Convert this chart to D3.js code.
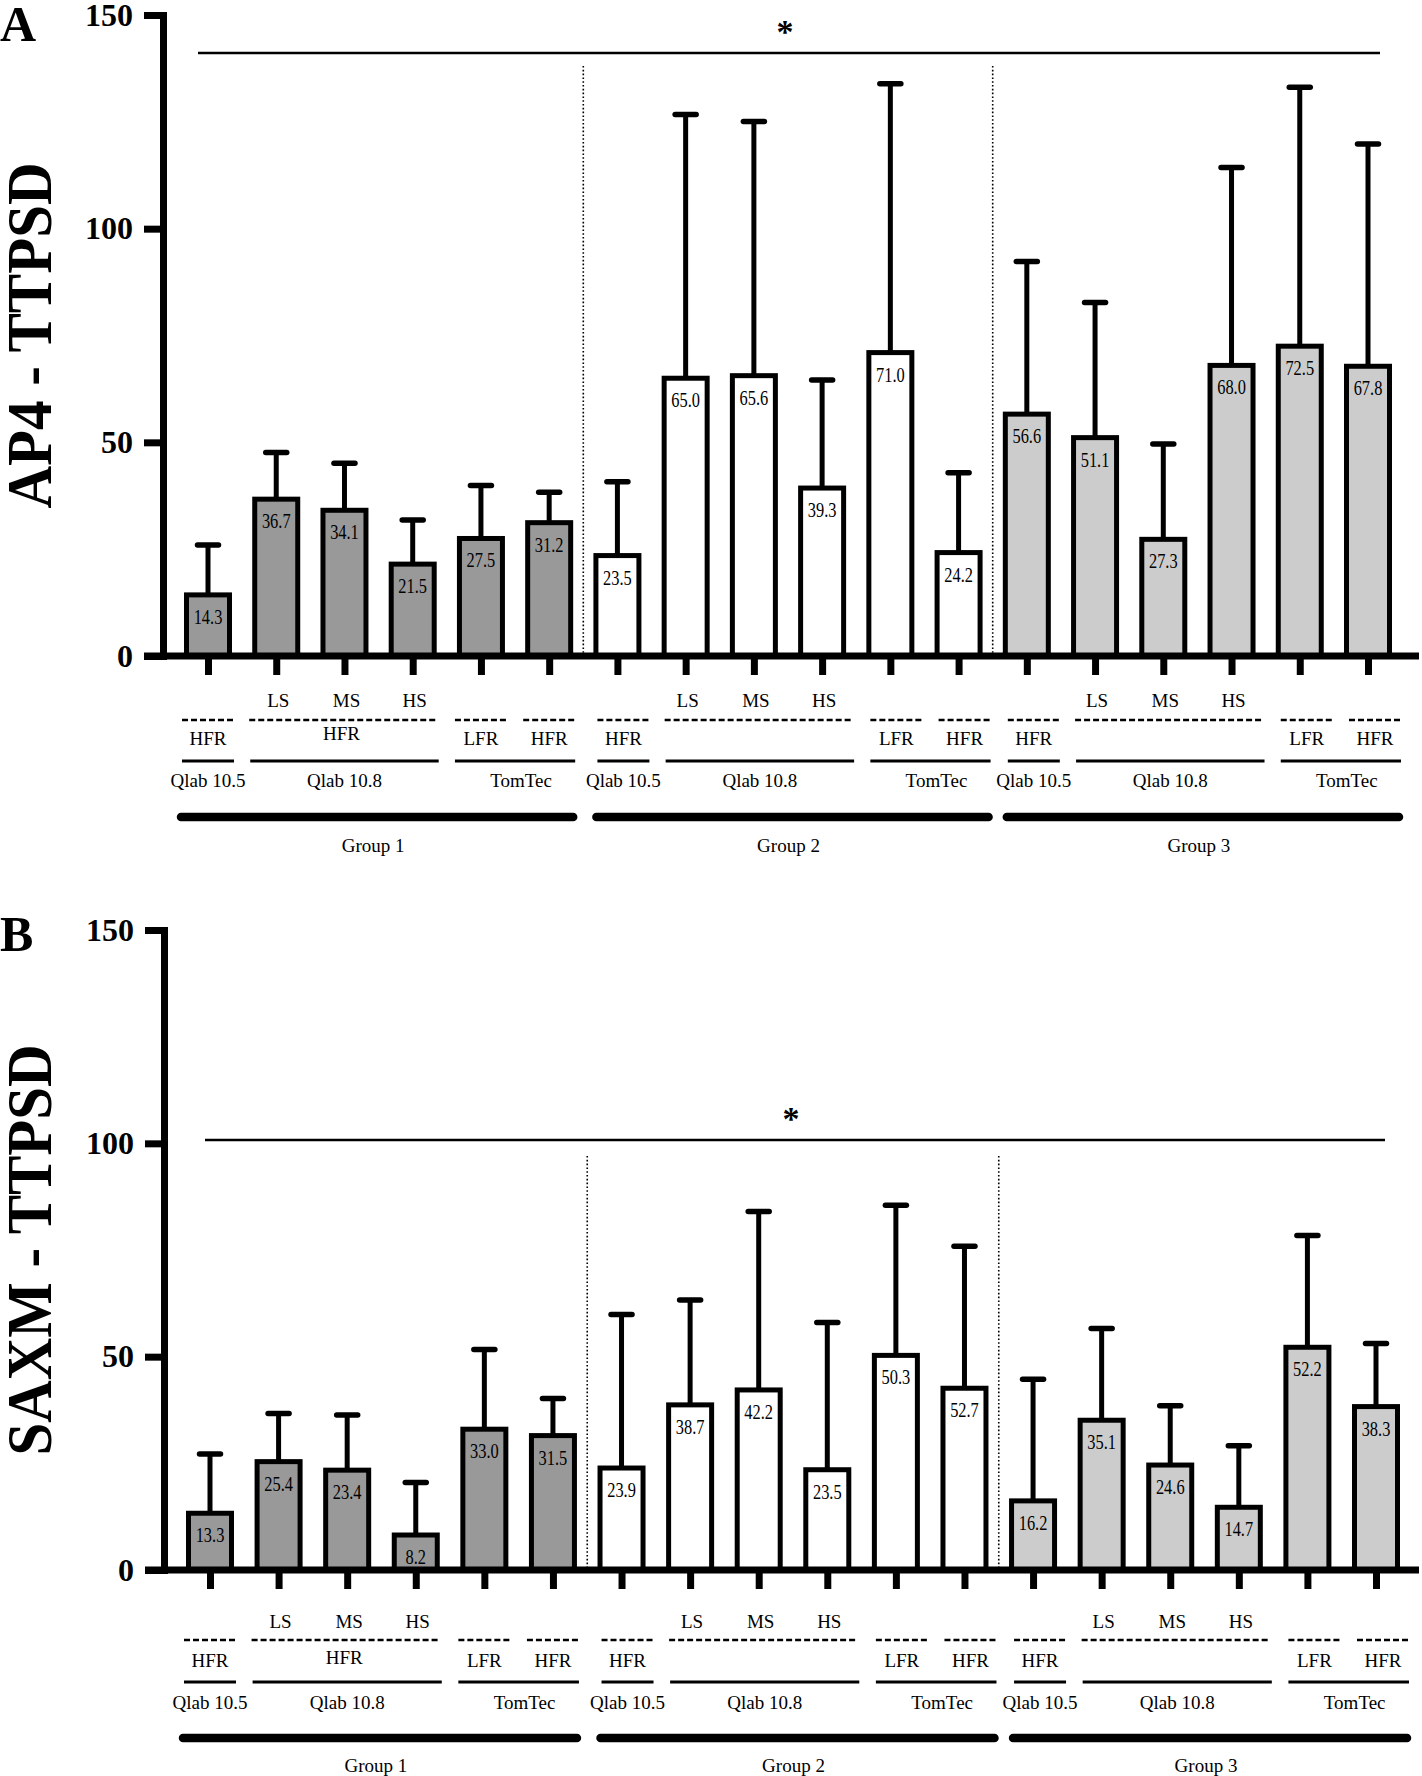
<!DOCTYPE html>
<html><head><meta charset="utf-8">
<script src="https://cdn.jsdelivr.net/npm/d3@7"></script>
<style>
body{margin:0;background:#fff}
svg{display:block}
text{font-family:"Liberation Serif","Times New Roman",serif;fill:#000}
</style>
</head><body>
<svg id="chart" width="1422" height="1776"></svg>
<script>
// ---------------- DATA ----------------
const groupNames = ["Group 1", "Group 2", "Group 3"];
const speckleLabels = ["", "LS", "MS", "HS", "", ""];
const frameRateLabels = ["HFR", "", "", "", "LFR", "HFR"];
const qlab108FrameLabel = ["HFR", "", ""];
const softwareNames = ["Qlab 10.5", "Qlab 10.8", "TomTec"];
const softwareFrom = [0, 1, 4];
const softwareTo = [0, 3, 5];
const groupFills = ["#999999", "#ffffff", "#cccccc"];
const categories = groupNames.flatMap(g =>
  ["Qlab 10.5 HFR", "Qlab 10.8 LS", "Qlab 10.8 MS", "Qlab 10.8 HS", "TomTec LFR", "TomTec HFR"].map(s => g + " " + s));
const yTicks = [0, 50, 100, 150];

// Panel A: AP4 - TTPSD
const ap4Values = [14.3, 36.7, 34.1, 21.5, 27.5, 31.2, 23.5, 65.0, 65.6, 39.3, 71.0, 24.2, 56.6, 51.1, 27.3, 68.0, 72.5, 67.8];
const ap4ErrorTop = [26.0, 47.6, 45.1, 31.8, 39.9, 38.3, 40.8, 126.7, 125.1, 64.6, 133.9, 42.9, 92.3, 82.7, 49.6, 114.3, 133.1, 119.8];
const ap4Labels = ["14.3", "36.7", "34.1", "21.5", "27.5", "31.2", "23.5", "65.0", "65.6", "39.3", "71.0", "24.2", "56.6", "51.1", "27.3", "68.0", "72.5", "67.8"];

// Panel B: SAXM - TTPSD
const saxmValues = [13.3, 25.4, 23.4, 8.2, 33.0, 31.5, 23.9, 38.7, 42.2, 23.5, 50.3, 42.6, 16.2, 35.1, 24.6, 14.7, 52.2, 38.3];
const saxmErrorTop = [27.2, 36.7, 36.3, 20.5, 51.7, 40.2, 59.9, 63.3, 84.0, 58.0, 85.5, 75.9, 44.7, 56.6, 38.5, 29.1, 78.4, 53.1];
const saxmLabels = ["13.3", "25.4", "23.4", "8.2", "33.0", "31.5", "23.9", "38.7", "42.2", "23.5", "50.3", "52.7", "16.2", "35.1", "24.6", "14.7", "52.2", "38.3"];

// ---------------- LAYOUT ----------------
const svg = d3.select("#chart");

const panels = [
  { letter: "A", title: "AP4 - TTPSD", values: ap4Values, err: ap4ErrorTop, labels: ap4Labels,
    yTop: 15, yBottom: 656, axisX: 163, xFirst: 208, xLast: 1368, letterY: 41,
    sigY: 53, sigX0: 198, sigX1: 1380, starX: 785, sepTop: 66,
    rows: { sp: 44, dash: 64, fr: 82, fr108: 77, solid: 105, sw: 124, thick: 161, grp: 189 } },
  { letter: "B", title: "SAXM - TTPSD", values: saxmValues, err: saxmErrorTop, labels: saxmLabels,
    yTop: 930, yBottom: 1570, axisX: 164, xFirst: 210, xLast: 1376, letterY: 951,
    sigY: 1140, sigX0: 205, sigX1: 1385, starX: 791, sepTop: 1156,
    rows: { sp: 51, dash: 70, fr: 90, fr108: 87, solid: 112, sw: 132, thick: 168, grp: 195 } }
];

const groupShift = [0, 6, 7];

panels.forEach(p => {
  const g = svg.append("g");
  const y = d3.scaleLinear().domain([0, 150]).range([p.yBottom, p.yTop]);
  const x = d3.scalePoint().domain(d3.range(categories.length)).range([p.xFirst, p.xLast]);
  const barW = 43;

  // panel letter
  g.append("text").attr("x", 0).attr("y", p.letterY)
    .attr("font-size", 50).attr("font-weight", "bold").text(p.letter);

  // y title
  const cy = (p.yTop + p.yBottom) / 2;
  const titleLen = p.letter === "A" ? 346 : 411;
  g.append("text")
    .attr("transform", `translate(51,${cy}) rotate(-90)`)
    .attr("text-anchor", "middle")
    .attr("font-size", 64).attr("font-weight", "bold")
    .attr("textLength", titleLen).attr("lengthAdjust", "spacingAndGlyphs")
    .text(p.title);

  // group separators (dotted)
  [5.5, 11.5].forEach(k => {
    const xs = (x(Math.floor(k)) + x(Math.ceil(k))) / 2;
    g.append("line").attr("x1", xs).attr("x2", xs).attr("y1", p.sepTop).attr("y2", p.yBottom)
      .attr("stroke", "#000").attr("stroke-width", 1.6).attr("stroke-dasharray", "1.6,2.2");
  });

  // significance line and star
  g.append("line").attr("x1", p.sigX0).attr("x2", p.sigX1).attr("y1", p.sigY).attr("y2", p.sigY)
    .attr("stroke", "#000").attr("stroke-width", 2.5);
  g.append("text").attr("x", p.starX).attr("y", p.sigY - 10).attr("text-anchor", "middle")
    .attr("font-size", 34).attr("font-weight", "bold").text("*");

  const idx = d3.range(categories.length);

  // error bars
  g.selectAll(".errv").data(idx).join("line")
    .attr("x1", i => x(i)).attr("x2", i => x(i))
    .attr("y1", i => y(p.values[i])).attr("y2", i => y(p.err[i]))
    .attr("stroke", "#000").attr("stroke-width", 5);
  g.selectAll(".errc").data(idx).join("line")
    .attr("x1", i => x(i) - 10.5).attr("x2", i => x(i) + 10.5)
    .attr("y1", i => y(p.err[i])).attr("y2", i => y(p.err[i]))
    .attr("stroke", "#000").attr("stroke-width", 5.5).attr("stroke-linecap", "round");

  // bars
  g.selectAll(".bar").data(idx).join("rect")
    .attr("x", i => x(i) - barW / 2).attr("width", barW)
    .attr("y", i => y(p.values[i])).attr("height", i => y(0) - y(p.values[i]))
    .attr("fill", i => groupFills[Math.floor(i / 6)])
    .attr("stroke", "#000").attr("stroke-width", 5);

  // value labels
  g.selectAll(".vl").data(idx).join("text")
    .attr("transform", i => `translate(${x(i)},${y(p.values[i]) + 22}) scale(0.82,1)`)
    .attr("text-anchor", "middle").attr("dy", "0.35em")
    .attr("font-size", 20).text(i => p.labels[i]);

  // y axis
  const yAxis = d3.axisLeft(y).tickValues(yTicks).tickSize(19).tickSizeOuter(0).tickPadding(11);
  const ya = g.append("g").attr("transform", `translate(${p.axisX},0)`).call(yAxis);
  ya.select(".domain").attr("stroke", "#000").attr("stroke-width", 7).attr("stroke-linecap", "square");
  ya.selectAll(".tick line").attr("stroke", "#000").attr("stroke-width", 7);
  ya.selectAll(".tick text").attr("font-size", 32).attr("font-weight", "bold")
    .attr("font-family", "Liberation Serif, serif").attr("fill", "#000");

  // x axis ticks
  const xAxis = d3.axisBottom(x).tickSize(19).tickFormat("");
  const xa = g.append("g").attr("transform", `translate(0,${p.yBottom})`).call(xAxis);
  xa.select(".domain").remove();
  xa.selectAll(".tick line").attr("stroke", "#000").attr("stroke-width", 7);
  // x axis base line
  g.append("line").attr("x1", p.axisX - 19).attr("x2", 1419)
    .attr("y1", p.yBottom).attr("y2", p.yBottom)
    .attr("stroke", "#000").attr("stroke-width", 7);

  // category annotation rows
  const base = p.yBottom;
  const R = p.rows;
  groupNames.forEach((gn, gi) => {
    const b = gi * 6;
    const s = groupShift[gi];
    const c = k => x(b + k) + s;
    speckleLabels.forEach((lab, k) => {
      if (!lab) return;
      g.append("text").attr("x", x(b + k) + 2).attr("y", base + R.sp).attr("dy", "0.35em")
        .attr("text-anchor", "middle").attr("font-size", 19).text(lab);
    });
    const dashSegs = [[c(0) - 26, c(0) + 28], [c(1) - 27, c(3) + 24], [c(4) - 26, c(4) + 28], [c(5) - 26, c(5) + 25]];
    dashSegs.forEach(sg => {
      g.append("line").attr("x1", sg[0]).attr("x2", sg[1]).attr("y1", base + R.dash).attr("y2", base + R.dash)
        .attr("stroke", "#000").attr("stroke-width", 2.5).attr("stroke-dasharray", "6,3");
    });
    frameRateLabels.forEach((lab, k) => {
      if (!lab) return;
      g.append("text").attr("x", c(k)).attr("y", base + R.fr).attr("dy", "0.35em")
        .attr("text-anchor", "middle").attr("font-size", 19).text(lab);
    });
    if (qlab108FrameLabel[gi]) {
      g.append("text").attr("x", c(2) - 3).attr("y", base + R.fr108).attr("dy", "0.35em")
        .attr("text-anchor", "middle").attr("font-size", 19).text(qlab108FrameLabel[gi]);
    }
    softwareNames.forEach((sn, si) => {
      const x0 = c(softwareFrom[si]) - 26, x1 = c(softwareTo[si]) + 26;
      g.append("line").attr("x1", x0).attr("x2", x1).attr("y1", base + R.solid).attr("y2", base + R.solid)
        .attr("stroke", "#000").attr("stroke-width", 2.8);
      const tx = si === 2 ? (x0 + x1) / 2 + 6 : (si === 0 ? c(0) : c(2));
      g.append("text").attr("x", tx).attr("y", base + R.sw).attr("dy", "0.35em")
        .attr("text-anchor", "middle").attr("font-size", 19).text(sn);
    });
    const gx0 = c(0) - 27, gx1 = c(5) + 24;
    g.append("line").attr("x1", gx0).attr("x2", gx1).attr("y1", base + R.thick).attr("y2", base + R.thick)
      .attr("stroke", "#000").attr("stroke-width", 8.5).attr("stroke-linecap", "round");
    g.append("text").attr("x", (gx0 + gx1) / 2 - 4).attr("y", base + R.grp).attr("dy", "0.35em")
      .attr("text-anchor", "middle").attr("font-size", 19).text(gn);
  });
});
</script>
</body></html>
